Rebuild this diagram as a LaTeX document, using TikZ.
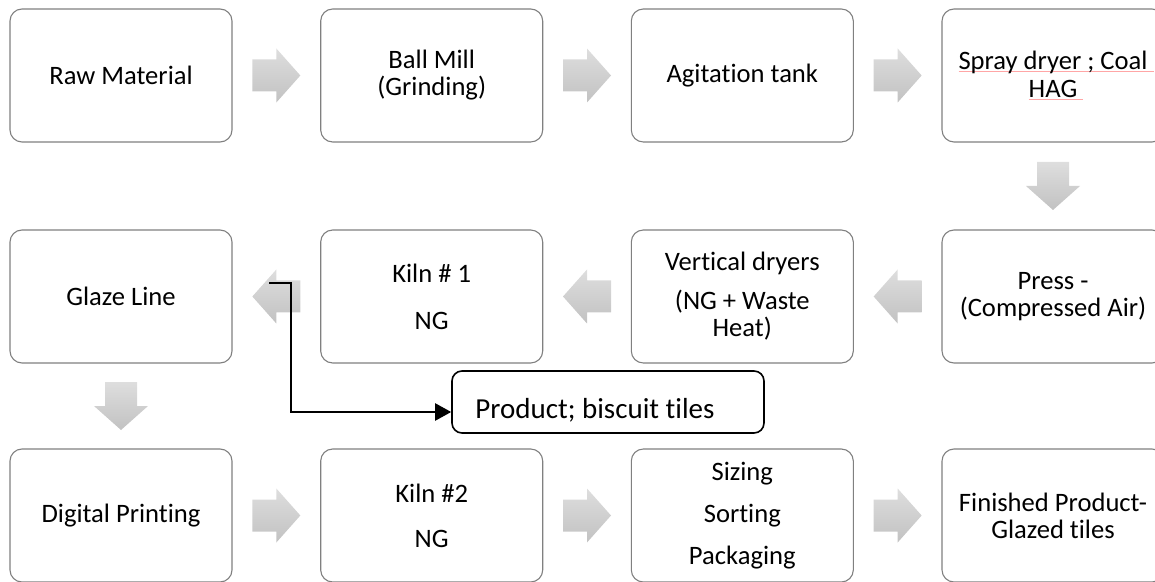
\documentclass[tikz,border=0pt]{standalone}
\usepackage{fontspec}
\setmainfont{Carlito}[Ligatures=NoCommon]
\usetikzlibrary{arrows.meta, calc}

% faint spell-check line under a word group
\newcommand{\spellmark}[1]{\begingroup\setbox0\hbox{#1}%
    \rlap{\color{red!35}\rule[-1.2pt]{\dimexpr\wd0+3pt\relax}{0.55pt}}\box0\endgroup}

\begin{document}
\frenchspacing
\begin{tikzpicture}[
    x=0.5pt,  % 1 unit = 1 px of the layout
    y=-0.5pt, % y runs downwards
    stage/.style={draw=black!50, line width=0.55pt, rounded corners=6pt,
        minimum width=111pt, minimum height=66.5pt, inner sep=2pt,
        align=center, font=\fontsize{13.3}{13.5}\selectfont},
    flowarrow/.pic={
        \shade[top color=black!13, bottom color=black!24]
            (-24,-16) -- (0,-16) -- (0,-27) -- (24,0) -- (0,27) -- (0,16) -- (-24,16) -- cycle;
    },
    flowline/.style={line width=1.1pt, -{Triangle[length=8pt, width=8.5pt]}}
]
    \useasboundingbox (0,0) rectangle (1155,582);

    % --- row 1 ---
    \node[stage] (raw)     at (121,75.5)   {Raw Material};
    \node[stage] (mill)    at (431.7,75.5) {Ball Mill\\(Grinding)};
    \node[stage] (agitate) at (742.3,75.5) {Agitation tank};
    \node[stage] (spray)   at (1053,75.5)  {\spellmark{Spray dryer ; Coal}\\[0.5pt]\spellmark{HAG}};

    % --- row 2 ---
    \node[stage] (glaze)  at (121,296.5)   {Glaze Line};
    \node[stage] (kiln1)  at (431.7,296.5) {Kiln \# 1\\[10pt]NG};
    \node[stage] (vdryer) at (742.3,296.5) {Vertical dryers\\[6pt](NG + Waste\\Heat)};
    \node[stage] (press)  at (1053,296.5)  {Press -\\(Compressed Air)};

    % --- row 3 ---
    \node[stage] (printing) at (121,515.5)   {Digital Printing};
    \node[stage] (kiln2)    at (431.7,515.5) {Kiln \#2\\[9pt]NG};
    \node[stage] (sizing)   at (742.3,515.5) {Sizing\\[7.5pt]Sorting\\[7.5pt]Packaging};
    \node[stage] (finished) at (1053,515.5)  {Finished Product-\\Glazed tiles};

    % --- block arrows ---
    \path ($(raw.east)!.5!(mill.west)$) pic {flowarrow};
    \path ($(mill.east)!.5!(agitate.west)$) pic {flowarrow};
    \path ($(agitate.east)!.5!(spray.west)$) pic {flowarrow};
    \path ($(spray.south)!.5!(press.north)$) pic[rotate=-90] {flowarrow};
    \path ($(press.west)!.5!(vdryer.east)$) pic[xscale=-1] {flowarrow};
    \path ($(vdryer.west)!.5!(kiln1.east)$) pic[xscale=-1] {flowarrow};
    \path ($(kiln1.west)!.5!(glaze.east)$) pic[xscale=-1] {flowarrow};
    \path ($(glaze.south)!.5!(printing.north)$) pic[rotate=-90] {flowarrow};
    \path ($(printing.east)!.5!(kiln2.west)$) pic {flowarrow};
    \path ($(kiln2.east)!.5!(sizing.west)$) pic {flowarrow};
    \path ($(sizing.east)!.5!(finished.west)$) pic {flowarrow};

    % --- side product ---
    \node[draw, line width=0.8pt, rounded corners=5pt, minimum width=156pt, minimum height=31pt,
        inner ysep=0pt, text height=19pt, text depth=3pt, font=\fontsize{14.5}{16}\selectfont]
        (biscuit) at (608,402) {Product; biscuit tiles\hspace*{13pt}};

    \coordinate (tap)  at (269,283);
    \coordinate (drop) at (291,412);
    \draw[flowline] (tap) -| (drop) -- (drop -| biscuit.west);
\end{tikzpicture}
\end{document}
